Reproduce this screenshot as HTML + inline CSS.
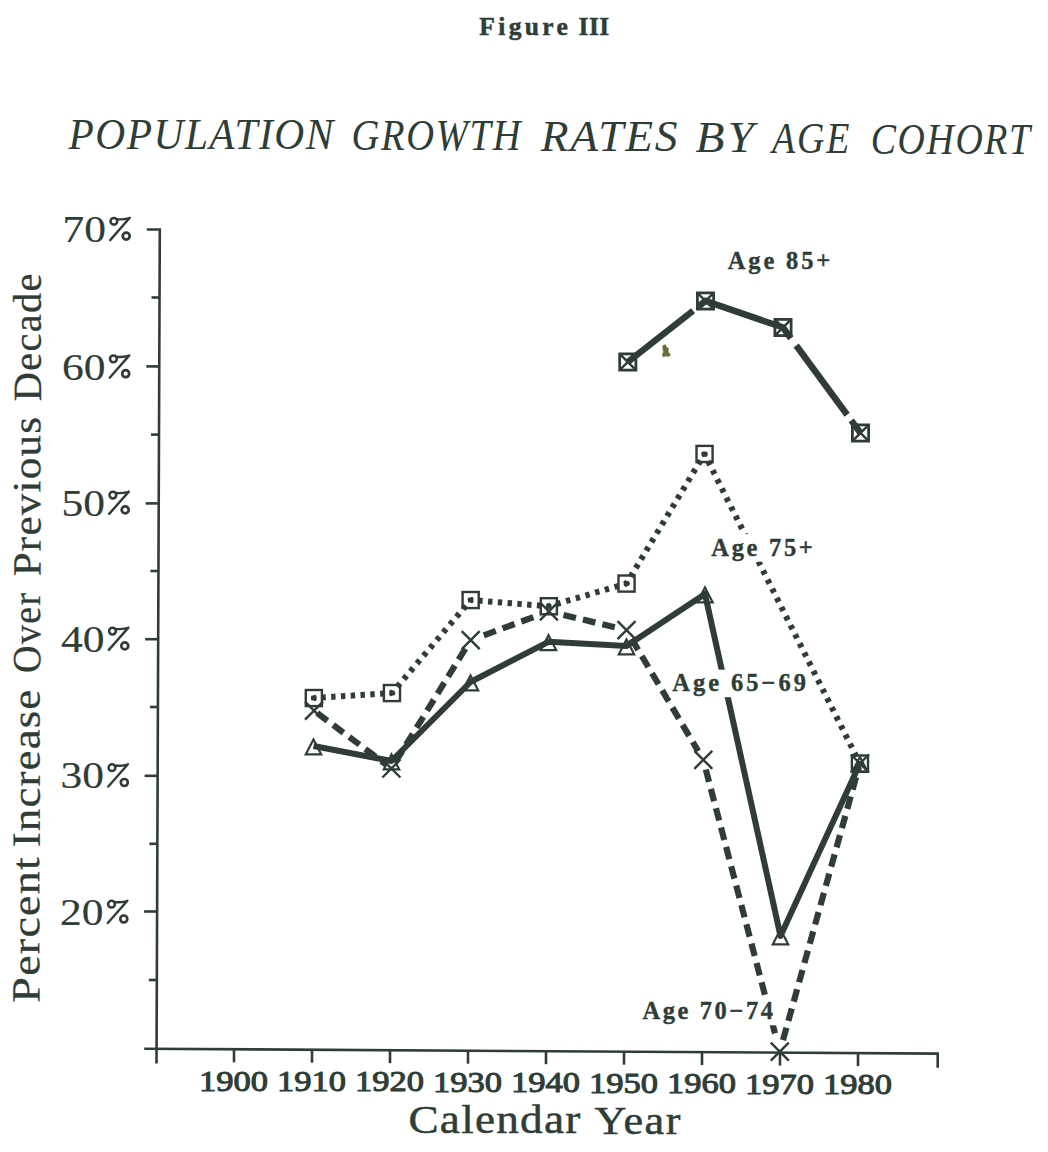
<!DOCTYPE html>
<html><head><meta charset="utf-8"><style>
html,body{margin:0;padding:0;background:#fff;}
body{width:1048px;height:1152px;overflow:hidden;}
svg{display:block;}
</style></head><body>
<svg width="1048" height="1152" viewBox="0 0 1048 1152">
<rect width="1048" height="1152" fill="#fff"/>
<path d="M146.8 229.5L159.8 229.5L156.5 1063.4" fill="none" stroke="#2f3d36" stroke-width="2.6"/>
<path d="M144.2 1048.7L937.7 1053.6L937.7 1067.7" fill="none" stroke="#2f3d36" stroke-width="2.6"/>
<line x1="151.5" y1="297.5" x2="159.5" y2="297.5" stroke="#2f3d36" stroke-width="2.6"/>
<line x1="146.3" y1="366.4" x2="159.3" y2="366.4" stroke="#2f3d36" stroke-width="2.6"/>
<line x1="151" y1="434.6" x2="159" y2="434.6" stroke="#2f3d36" stroke-width="2.6"/>
<line x1="145.7" y1="503.4" x2="158.7" y2="503.4" stroke="#2f3d36" stroke-width="2.6"/>
<line x1="150.4" y1="571" x2="158.4" y2="571" stroke="#2f3d36" stroke-width="2.6"/>
<line x1="145.2" y1="639.2" x2="158.2" y2="639.2" stroke="#2f3d36" stroke-width="2.6"/>
<line x1="149.9" y1="707" x2="157.9" y2="707" stroke="#2f3d36" stroke-width="2.6"/>
<line x1="144.6" y1="775.8" x2="157.6" y2="775.8" stroke="#2f3d36" stroke-width="2.6"/>
<line x1="149.4" y1="843.8" x2="157.4" y2="843.8" stroke="#2f3d36" stroke-width="2.6"/>
<line x1="144.1" y1="911.5" x2="157.1" y2="911.5" stroke="#2f3d36" stroke-width="2.6"/>
<line x1="148.8" y1="980" x2="156.8" y2="980" stroke="#2f3d36" stroke-width="2.6"/>
<line x1="234" y1="1049.3" x2="234" y2="1062.3" stroke="#2f3d36" stroke-width="2.6"/>
<line x1="312" y1="1049.7" x2="312" y2="1062.7" stroke="#2f3d36" stroke-width="2.6"/>
<line x1="390" y1="1050.2" x2="390" y2="1063.2" stroke="#2f3d36" stroke-width="2.6"/>
<line x1="468" y1="1050.7" x2="468" y2="1063.7" stroke="#2f3d36" stroke-width="2.6"/>
<line x1="546" y1="1051.2" x2="546" y2="1064.2" stroke="#2f3d36" stroke-width="2.6"/>
<line x1="624" y1="1051.7" x2="624" y2="1064.7" stroke="#2f3d36" stroke-width="2.6"/>
<line x1="702" y1="1052.1" x2="702" y2="1065.1" stroke="#2f3d36" stroke-width="2.6"/>
<line x1="780" y1="1052.6" x2="780" y2="1065.6" stroke="#2f3d36" stroke-width="2.6"/>
<line x1="858" y1="1053.1" x2="858" y2="1066.1" stroke="#2f3d36" stroke-width="2.6"/>
<path d="M313.5 746L391.5 761L470.5 682L548.5 641.8L626.5 646L705 594L780.5 936L859.9 763.5" fill="none" stroke="#2f3d36" stroke-width="6" stroke-linejoin="round"/>
<path d="M317.2 713L386.6 764.9" fill="none" stroke="#2f3d36" stroke-width="6.2" stroke-dasharray="12.8 7.2"/>
<path d="M395.6 761.7L467.5 645.2" fill="none" stroke="#2f3d36" stroke-width="6.2" stroke-dasharray="12.8 7.2"/>
<path d="M483.8 635.3L540.5 614.5" fill="none" stroke="#2f3d36" stroke-width="6.2" stroke-dasharray="12.8 7.2"/>
<path d="M563.5 614.9L616.8 627.8" fill="none" stroke="#2f3d36" stroke-width="6.2" stroke-dasharray="12.8 7.2"/>
<path d="M631.6 638.8L698.2 751.2" fill="none" stroke="#2f3d36" stroke-width="6.2" stroke-dasharray="12.8 7.2"/>
<path d="M705.8 769.5L776.5 1039.1" fill="none" stroke="#2f3d36" stroke-width="6.2" stroke-dasharray="12.8 7.2"/>
<path d="M783 1040.1L858.8 767.4" fill="none" stroke="#2f3d36" stroke-width="6.2" stroke-dasharray="12.8 7.2"/>
<path d="M313.8 698L392 693" fill="none" stroke="#2f3d36" stroke-width="6.0" stroke-dasharray="4.4 5.4" stroke-dashoffset="2.2"/>
<path d="M392 693L470.7 600" fill="none" stroke="#2f3d36" stroke-width="6.0" stroke-dasharray="4.4 5.8" stroke-dashoffset="2.2"/>
<path d="M470.7 600L548.8 606.3" fill="none" stroke="#2f3d36" stroke-width="6.0" stroke-dasharray="4.4 5.4" stroke-dashoffset="2.2"/>
<path d="M548.8 606.3L626.5 583.5" fill="none" stroke="#2f3d36" stroke-width="6.0" stroke-dasharray="4.4 5.7" stroke-dashoffset="2.2"/>
<path d="M626.5 583.5L704.5 454" fill="none" stroke="#2f3d36" stroke-width="6.0" stroke-dasharray="4.4 5.7" stroke-dashoffset="2.2"/>
<path d="M704.5 454L859.9 763.5" fill="none" stroke="#2f3d36" stroke-width="6.0" stroke-dasharray="4.4 5.8" stroke-dashoffset="2.2"/>
<path d="M627.8 362L705.5 301L783 327.5L860.5 433" fill="none" stroke="#2f3d36" stroke-width="6.5" stroke-dasharray="83 7 104 9 86 7 40"/>
<path d="M313.5 739.4L321.2 754.3L305.8 754.3Z" fill="none" stroke="#2f3d36" stroke-width="2.2" stroke-linejoin="miter"/>
<path d="M391.5 754.4L399.2 769.3L383.8 769.3Z" fill="none" stroke="#2f3d36" stroke-width="2.2" stroke-linejoin="miter"/>
<path d="M470.5 675.4L478.2 690.3L462.8 690.3Z" fill="none" stroke="#2f3d36" stroke-width="2.2" stroke-linejoin="miter"/>
<path d="M548.5 635.2L556.2 650.1L540.8 650.1Z" fill="none" stroke="#2f3d36" stroke-width="2.2" stroke-linejoin="miter"/>
<path d="M626.5 639.4L634.2 654.3L618.8 654.3Z" fill="none" stroke="#2f3d36" stroke-width="2.2" stroke-linejoin="miter"/>
<path d="M705 587.4L712.7 602.3L697.3 602.3Z" fill="none" stroke="#2f3d36" stroke-width="2.2" stroke-linejoin="miter"/>
<path d="M780.5 929.4L788.2 944.3L772.8 944.3Z" fill="none" stroke="#2f3d36" stroke-width="2.2" stroke-linejoin="miter"/>
<path d="M859.9 756.9L867.6 771.8L852.2 771.8Z" fill="none" stroke="#2f3d36" stroke-width="2.2" stroke-linejoin="miter"/>
<rect x="305.8" y="690" width="16.1" height="16.1" fill="none" stroke="#2f3d36" stroke-width="2.4"/>
<rect x="311" y="695.6" width="5.6" height="4.8" rx="1.2" fill="#2f3d36"/>
<rect x="383.9" y="685" width="16.1" height="16.1" fill="none" stroke="#2f3d36" stroke-width="2.4"/>
<rect x="389.2" y="690.6" width="5.6" height="4.8" rx="1.2" fill="#2f3d36"/>
<rect x="462.6" y="592" width="16.1" height="16.1" fill="none" stroke="#2f3d36" stroke-width="2.4"/>
<rect x="467.9" y="597.6" width="5.6" height="4.8" rx="1.2" fill="#2f3d36"/>
<rect x="540.8" y="598.2" width="16.1" height="16.1" fill="none" stroke="#2f3d36" stroke-width="2.4"/>
<rect x="546" y="603.9" width="5.6" height="4.8" rx="1.2" fill="#2f3d36"/>
<rect x="618.5" y="575.5" width="16.1" height="16.1" fill="none" stroke="#2f3d36" stroke-width="2.4"/>
<rect x="623.7" y="581.1" width="5.6" height="4.8" rx="1.2" fill="#2f3d36"/>
<rect x="696.5" y="445.9" width="16.1" height="16.1" fill="none" stroke="#2f3d36" stroke-width="2.4"/>
<rect x="701.7" y="451.6" width="5.6" height="4.8" rx="1.2" fill="#2f3d36"/>
<rect x="851.9" y="755.5" width="16.1" height="16.1" fill="none" stroke="#2f3d36" stroke-width="2.4"/>
<rect x="857.1" y="761.1" width="5.6" height="4.8" rx="1.2" fill="#2f3d36"/>
<path d="M305 701.6L323 719.6M323 701.6L305 719.6" stroke="#2f3d36" stroke-width="2.4" fill="none"/>
<path d="M382.4 759.5L400.4 777.5M400.4 759.5L382.4 777.5" stroke="#2f3d36" stroke-width="2.4" fill="none"/>
<path d="M461.7 631.1L479.7 649.1M479.7 631.1L461.7 649.1" stroke="#2f3d36" stroke-width="2.4" fill="none"/>
<path d="M539.9 602.4L557.9 620.4M557.9 602.4L539.9 620.4" stroke="#2f3d36" stroke-width="2.4" fill="none"/>
<path d="M617.5 621.2L635.5 639.2M635.5 621.2L617.5 639.2" stroke="#2f3d36" stroke-width="2.4" fill="none"/>
<path d="M694.3 750.8L712.3 768.8M712.3 750.8L694.3 768.8" stroke="#2f3d36" stroke-width="2.4" fill="none"/>
<path d="M770.8 1042.7L788.8 1060.7M788.8 1042.7L770.8 1060.7" stroke="#2f3d36" stroke-width="2.4" fill="none"/>
<path d="M850.9 754.5L868.9 772.5M868.9 754.5L850.9 772.5" stroke="#2f3d36" stroke-width="2.4" fill="none"/>
<rect x="619.7" y="353.9" width="16.2" height="16.2" fill="none" stroke="#2f3d36" stroke-width="2.8"/>
<path d="M620.4 354.6L635.2 369.4M635.2 354.6L620.4 369.4" stroke="#2f3d36" stroke-width="2.4" fill="none"/>
<rect x="697.4" y="292.9" width="16.2" height="16.2" fill="none" stroke="#2f3d36" stroke-width="2.8"/>
<path d="M698.1 293.6L712.9 308.4M712.9 293.6L698.1 308.4" stroke="#2f3d36" stroke-width="2.4" fill="none"/>
<rect x="774.9" y="319.4" width="16.2" height="16.2" fill="none" stroke="#2f3d36" stroke-width="2.8"/>
<path d="M775.6 320.1L790.4 334.9M790.4 320.1L775.6 334.9" stroke="#2f3d36" stroke-width="2.4" fill="none"/>
<rect x="852.4" y="424.9" width="16.2" height="16.2" fill="none" stroke="#2f3d36" stroke-width="2.8"/>
<path d="M853.1 425.6L867.9 440.4M867.9 425.6L853.1 440.4" stroke="#2f3d36" stroke-width="2.4" fill="none"/>
<text x="479.3" y="35.1" font-family="Liberation Serif" font-size="25.5" font-weight="bold" font-style="normal" text-anchor="start" textLength="88.5" lengthAdjust="spacing" fill="#2f3d36" stroke="#2f3d36" stroke-width="0.5" stroke-linejoin="round">Figure</text>
<text x="578.6" y="35.1" font-family="Liberation Serif" font-size="25.5" font-weight="bold" font-style="normal" text-anchor="start" textLength="30.5" lengthAdjust="spacing" fill="#2f3d36" stroke="#2f3d36" stroke-width="0.5" stroke-linejoin="round">III</text>
<path d="M662.5 345.5L665.5 344.3L666.6 347L668.6 348L668.6 352.5L670.6 354L669.6 356.6L665 356.6L663 357.2L662 354.2L663.4 352L662.5 349Z" fill="#6e6c3c"/>
<g transform="translate(68.6 148.9) scale(0.9412 1)"><text x="0" y="0" font-family="Liberation Serif" font-size="44" font-weight="normal" font-style="italic" text-anchor="start" textLength="281.3" lengthAdjust="spacing" fill="#2f3d36">POPULATION</text></g>
<g transform="translate(351.5 150.4) scale(0.8763 1)"><text x="0" y="0" font-family="Liberation Serif" font-size="44" font-weight="normal" font-style="italic" text-anchor="start" textLength="193" lengthAdjust="spacing" fill="#2f3d36">GROWTH</text></g>
<g transform="translate(540.8 151.4) scale(1.0350 1)"><text x="0" y="0" font-family="Liberation Serif" font-size="44" font-weight="normal" font-style="italic" text-anchor="start" textLength="132.1" lengthAdjust="spacing" fill="#2f3d36">RATES</text></g>
<g transform="translate(695.5 152.1) scale(1.0784 1)"><text x="0" y="0" font-family="Liberation Serif" font-size="44" font-weight="normal" font-style="italic" text-anchor="start" textLength="54.1" lengthAdjust="spacing" fill="#2f3d36">BY</text></g>
<g transform="translate(772 152.7) scale(0.8608 1)"><text x="0" y="0" font-family="Liberation Serif" font-size="44" font-weight="normal" font-style="italic" text-anchor="start" textLength="90" lengthAdjust="spacing" fill="#2f3d36">AGE</text></g>
<g transform="translate(870.8 153.5) scale(0.8592 1)"><text x="0" y="0" font-family="Liberation Serif" font-size="44" font-weight="normal" font-style="italic" text-anchor="start" textLength="185.3" lengthAdjust="spacing" fill="#2f3d36">COHORT</text></g>
<text x="62.5" y="241.9" font-family="Liberation Serif" font-size="38.5" font-weight="normal" font-style="normal" text-anchor="start" textLength="43.5" lengthAdjust="spacingAndGlyphs" fill="#2f3d36" stroke="#2f3d36" stroke-width="0.15" stroke-linejoin="round">70</text>
<circle cx="113.9" cy="221.3" r="3.4" fill="none" stroke="#2f3d36" stroke-width="2.5"/><circle cx="126.2" cy="236.1" r="3.5" fill="none" stroke="#2f3d36" stroke-width="2.7"/><path d="M110.2 240.1L129.8 217.8M116.7 219.1Q122.3 219.8 128.3 218.4" fill="none" stroke="#2f3d36" stroke-width="2.4" stroke-linecap="round"/>
<text x="62" y="379.5" font-family="Liberation Serif" font-size="38.5" font-weight="normal" font-style="normal" text-anchor="start" textLength="43.5" lengthAdjust="spacingAndGlyphs" fill="#2f3d36" stroke="#2f3d36" stroke-width="0.15" stroke-linejoin="round">60</text>
<circle cx="113.4" cy="358.9" r="3.4" fill="none" stroke="#2f3d36" stroke-width="2.5"/><circle cx="125.7" cy="373.7" r="3.5" fill="none" stroke="#2f3d36" stroke-width="2.7"/><path d="M109.7 377.7L129.3 355.4M116.2 356.7Q121.8 357.4 127.8 356" fill="none" stroke="#2f3d36" stroke-width="2.4" stroke-linecap="round"/>
<text x="61.5" y="515.7" font-family="Liberation Serif" font-size="38.5" font-weight="normal" font-style="normal" text-anchor="start" textLength="43.5" lengthAdjust="spacingAndGlyphs" fill="#2f3d36" stroke="#2f3d36" stroke-width="0.15" stroke-linejoin="round">50</text>
<circle cx="112.9" cy="495.1" r="3.4" fill="none" stroke="#2f3d36" stroke-width="2.5"/><circle cx="125.2" cy="509.9" r="3.5" fill="none" stroke="#2f3d36" stroke-width="2.7"/><path d="M109.2 513.9L128.8 491.6M115.7 492.9Q121.3 493.6 127.3 492.2" fill="none" stroke="#2f3d36" stroke-width="2.4" stroke-linecap="round"/>
<text x="61.1" y="651.7" font-family="Liberation Serif" font-size="38.5" font-weight="normal" font-style="normal" text-anchor="start" textLength="43.5" lengthAdjust="spacingAndGlyphs" fill="#2f3d36" stroke="#2f3d36" stroke-width="0.15" stroke-linejoin="round">40</text>
<circle cx="112.5" cy="631.1" r="3.4" fill="none" stroke="#2f3d36" stroke-width="2.5"/><circle cx="124.8" cy="645.9" r="3.5" fill="none" stroke="#2f3d36" stroke-width="2.7"/><path d="M108.8 649.9L128.4 627.6M115.3 628.9Q120.9 629.6 126.9 628.2" fill="none" stroke="#2f3d36" stroke-width="2.4" stroke-linecap="round"/>
<text x="60.6" y="788.3" font-family="Liberation Serif" font-size="38.5" font-weight="normal" font-style="normal" text-anchor="start" textLength="43.5" lengthAdjust="spacingAndGlyphs" fill="#2f3d36" stroke="#2f3d36" stroke-width="0.15" stroke-linejoin="round">30</text>
<circle cx="112" cy="767.7" r="3.4" fill="none" stroke="#2f3d36" stroke-width="2.5"/><circle cx="124.3" cy="782.5" r="3.5" fill="none" stroke="#2f3d36" stroke-width="2.7"/><path d="M108.3 786.5L127.9 764.2M114.8 765.5Q120.4 766.2 126.4 764.8" fill="none" stroke="#2f3d36" stroke-width="2.4" stroke-linecap="round"/>
<text x="60.1" y="924.8" font-family="Liberation Serif" font-size="38.5" font-weight="normal" font-style="normal" text-anchor="start" textLength="43.5" lengthAdjust="spacingAndGlyphs" fill="#2f3d36" stroke="#2f3d36" stroke-width="0.15" stroke-linejoin="round">20</text>
<circle cx="111.5" cy="904.2" r="3.4" fill="none" stroke="#2f3d36" stroke-width="2.5"/><circle cx="123.8" cy="919" r="3.5" fill="none" stroke="#2f3d36" stroke-width="2.7"/><path d="M107.8 923L127.4 900.7M114.3 902Q119.9 902.7 125.9 901.3" fill="none" stroke="#2f3d36" stroke-width="2.4" stroke-linecap="round"/>
<g transform="translate(39.4 1002.2) rotate(-90.14) scale(1.1524 1)"><text x="-0.4" y="0" font-family="Liberation Serif" font-size="40" font-weight="normal" font-style="normal" text-anchor="start" textLength="126.3" lengthAdjust="spacing" fill="#2f3d36" stroke="#2f3d36" stroke-width="0.25" stroke-linejoin="round">Percent</text></g>
<g transform="translate(39.8 846.8) rotate(-90.14) scale(1.1238 1)"><text x="-0.4" y="0" font-family="Liberation Serif" font-size="40" font-weight="normal" font-style="normal" text-anchor="start" textLength="140.2" lengthAdjust="spacing" fill="#2f3d36" stroke="#2f3d36" stroke-width="0.25" stroke-linejoin="round">Increase</text></g>
<g transform="translate(40.2 672.5) rotate(-90.14) scale(0.9527 1)"><text x="-0.5" y="0" font-family="Liberation Serif" font-size="40" font-weight="normal" font-style="normal" text-anchor="start" textLength="84.2" lengthAdjust="spacing" fill="#2f3d36" stroke="#2f3d36" stroke-width="0.25" stroke-linejoin="round">Over</text></g>
<g transform="translate(40.5 575.8) rotate(-90.14) scale(1.0810 1)"><text x="-0.5" y="0" font-family="Liberation Serif" font-size="40" font-weight="normal" font-style="normal" text-anchor="start" textLength="147.4" lengthAdjust="spacing" fill="#2f3d36" stroke="#2f3d36" stroke-width="0.25" stroke-linejoin="round">Previous</text></g>
<g transform="translate(40.9 400.7) rotate(-90.14) scale(1.0125 1)"><text x="-0.5" y="0" font-family="Liberation Serif" font-size="40" font-weight="normal" font-style="normal" text-anchor="start" textLength="126.2" lengthAdjust="spacing" fill="#2f3d36" stroke="#2f3d36" stroke-width="0.25" stroke-linejoin="round">Decade</text></g>
<text x="233.5" y="1090.6" font-family="Liberation Serif" font-size="29" font-weight="normal" font-style="normal" text-anchor="middle" textLength="69" lengthAdjust="spacingAndGlyphs" fill="#2f3d36" stroke="#2f3d36" stroke-width="1.0" stroke-linejoin="round">1900</text>
<text x="311.5" y="1091" font-family="Liberation Serif" font-size="29" font-weight="normal" font-style="normal" text-anchor="middle" textLength="69" lengthAdjust="spacingAndGlyphs" fill="#2f3d36" stroke="#2f3d36" stroke-width="1.0" stroke-linejoin="round">1910</text>
<text x="389.5" y="1091.4" font-family="Liberation Serif" font-size="29" font-weight="normal" font-style="normal" text-anchor="middle" textLength="69" lengthAdjust="spacingAndGlyphs" fill="#2f3d36" stroke="#2f3d36" stroke-width="1.0" stroke-linejoin="round">1920</text>
<text x="467.5" y="1091.9" font-family="Liberation Serif" font-size="29" font-weight="normal" font-style="normal" text-anchor="middle" textLength="69" lengthAdjust="spacingAndGlyphs" fill="#2f3d36" stroke="#2f3d36" stroke-width="1.0" stroke-linejoin="round">1930</text>
<text x="545.5" y="1092.3" font-family="Liberation Serif" font-size="29" font-weight="normal" font-style="normal" text-anchor="middle" textLength="69" lengthAdjust="spacingAndGlyphs" fill="#2f3d36" stroke="#2f3d36" stroke-width="1.0" stroke-linejoin="round">1940</text>
<text x="623.5" y="1092.7" font-family="Liberation Serif" font-size="29" font-weight="normal" font-style="normal" text-anchor="middle" textLength="69" lengthAdjust="spacingAndGlyphs" fill="#2f3d36" stroke="#2f3d36" stroke-width="1.0" stroke-linejoin="round">1950</text>
<text x="701.5" y="1093.1" font-family="Liberation Serif" font-size="29" font-weight="normal" font-style="normal" text-anchor="middle" textLength="69" lengthAdjust="spacingAndGlyphs" fill="#2f3d36" stroke="#2f3d36" stroke-width="1.0" stroke-linejoin="round">1960</text>
<text x="779.5" y="1093.5" font-family="Liberation Serif" font-size="29" font-weight="normal" font-style="normal" text-anchor="middle" textLength="69" lengthAdjust="spacingAndGlyphs" fill="#2f3d36" stroke="#2f3d36" stroke-width="1.0" stroke-linejoin="round">1970</text>
<text x="857.5" y="1094" font-family="Liberation Serif" font-size="29" font-weight="normal" font-style="normal" text-anchor="middle" textLength="69" lengthAdjust="spacingAndGlyphs" fill="#2f3d36" stroke="#2f3d36" stroke-width="1.0" stroke-linejoin="round">1980</text>
<g transform="translate(408.5 1133.2) scale(1.1023 1)"><text x="0" y="0" font-family="Liberation Serif" font-size="41" font-weight="normal" font-style="normal" text-anchor="start" textLength="155.8" lengthAdjust="spacing" fill="#2f3d36" stroke="#2f3d36" stroke-width="0.5" stroke-linejoin="round">Calendar</text></g>
<g transform="translate(594.6 1133.5) scale(1.0787 1)"><text x="0" y="0" font-family="Liberation Serif" font-size="41" font-weight="normal" font-style="normal" text-anchor="start" textLength="79.5" lengthAdjust="spacing" fill="#2f3d36" stroke="#2f3d36" stroke-width="0.5" stroke-linejoin="round">Year</text></g>
<rect x="724.7" y="247.3" width="108.6" height="27.5" fill="#fff"/><text x="727.7" y="268.8" font-family="Liberation Serif" font-size="24.5" font-weight="bold" font-style="normal" text-anchor="start" textLength="102.6" lengthAdjust="spacing" fill="#2f3d36" stroke="#2f3d36" stroke-width="0.35" stroke-linejoin="round">Age 85+</text>
<rect x="708.3" y="534.1" width="107.5" height="27.5" fill="#fff"/><text x="711.3" y="555.6" font-family="Liberation Serif" font-size="24.5" font-weight="bold" font-style="normal" text-anchor="start" textLength="101.5" lengthAdjust="spacing" fill="#2f3d36" stroke="#2f3d36" stroke-width="0.35" stroke-linejoin="round">Age 75+</text>
<rect x="669.3" y="669.7" width="139.6" height="27.5" fill="#fff"/><text x="672.3" y="691.2" font-family="Liberation Serif" font-size="24.5" font-weight="bold" font-style="normal" text-anchor="start" textLength="133.6" lengthAdjust="spacing" fill="#2f3d36" stroke="#2f3d36" stroke-width="0.35" stroke-linejoin="round">Age 65&#8722;69</text>
<rect x="639.4" y="997.8" width="136.7" height="27.5" fill="#fff"/><text x="642.4" y="1019.3" font-family="Liberation Serif" font-size="24.5" font-weight="bold" font-style="normal" text-anchor="start" textLength="130.7" lengthAdjust="spacing" fill="#2f3d36" stroke="#2f3d36" stroke-width="0.35" stroke-linejoin="round">Age 70&#8722;74</text>
</svg>
</body></html>
